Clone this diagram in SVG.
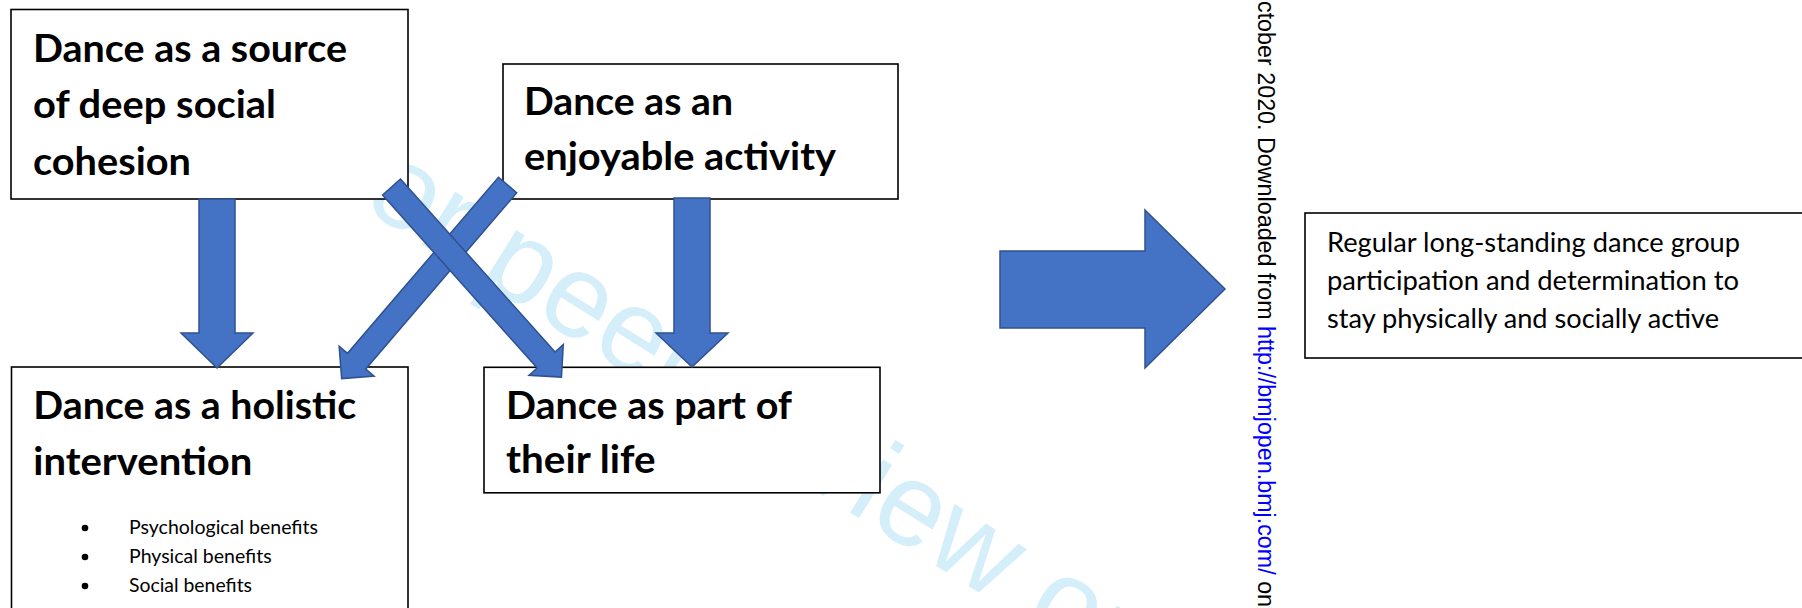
<svg xmlns="http://www.w3.org/2000/svg" width="1802" height="608" viewBox="0 0 1802 608">
<style>
.box{fill:#fff;stroke:#000;stroke-width:1.6}
.h{font-family:Lato,'Liberation Sans',sans-serif;font-weight:700;font-size:39px;fill:#000}
.b{font-family:Lato,'Liberation Sans',sans-serif;font-size:19.5px;fill:#000}
.r{font-family:Lato,'Liberation Sans',sans-serif;font-size:27px;fill:#000}
.arr{fill:#4472C4;stroke:#2F528F;stroke-width:1.5}
.wm{font-family:'Liberation Sans',Arial,sans-serif;font-size:118px;fill:#d4eefa}
.side{font-family:'Liberation Sans',Arial,sans-serif;font-size:23.3px;fill:#000}
</style>
<rect width="1802" height="608" fill="#fff"/>
<text class="wm" transform="translate(298.6,167.6) rotate(32)">For peer review only</text>

<g id="n1">
<rect class="box" x="11" y="9.5" width="397" height="189.5"/>
<text class="h" x="33" y="61.5" textLength="314" lengthAdjust="spacingAndGlyphs">Dance as a source</text>
<text class="h" x="33" y="118" textLength="243" lengthAdjust="spacingAndGlyphs">of deep social</text>
<text class="h" x="33" y="174.5" textLength="158" lengthAdjust="spacingAndGlyphs">cohesion</text>
</g>
<g id="n2">
<rect class="box" x="503" y="64" width="395" height="135"/>
<text class="h" x="524" y="115" textLength="209" lengthAdjust="spacingAndGlyphs">Dance as an</text>
<text class="h" x="524" y="169.5" textLength="312" lengthAdjust="spacingAndGlyphs">enjoyable activity</text>
</g>
<g id="n3">
<rect class="box" x="11.5" y="367" width="396.5" height="260"/>
<text class="h" x="33.3" y="419" textLength="323" lengthAdjust="spacingAndGlyphs">Dance as a holistic</text>
<text class="h" x="33.3" y="475" textLength="219" lengthAdjust="spacingAndGlyphs">intervention</text>
<circle cx="85" cy="528" r="3.3"/>
<circle cx="85" cy="557" r="3.3"/>
<circle cx="85" cy="586" r="3.3"/>
<text class="b" x="129" y="534" textLength="189" lengthAdjust="spacingAndGlyphs">Psychological benefits</text>
<text class="b" x="129" y="563" textLength="142.7" lengthAdjust="spacingAndGlyphs">Physical benefits</text>
<text class="b" x="129" y="592" textLength="123" lengthAdjust="spacingAndGlyphs">Social benefits</text>
</g>
<g id="n4">
<rect class="box" x="484" y="367.3" width="396" height="125.5"/>
<text class="h" x="506" y="419.3" textLength="286" lengthAdjust="spacingAndGlyphs">Dance as part of</text>
<text class="h" x="506" y="473.3" textLength="149.5" lengthAdjust="spacingAndGlyphs">their life</text>
</g>
<g id="n5">
<rect class="box" x="1305" y="213" width="520" height="145"/>
<text class="r" x="1327" y="252" textLength="413" lengthAdjust="spacingAndGlyphs">Regular long-standing dance group</text>
<text class="r" x="1327" y="290" textLength="412" lengthAdjust="spacingAndGlyphs">participation and determination to</text>
<text class="r" x="1327" y="328" textLength="392" lengthAdjust="spacingAndGlyphs">stay physically and socially active</text>
</g>

<g id="connectors">
<polygon class="arr" points="199,199 235,199 235,333 253,333 217,368 181,333 199,333"/>
<polygon class="arr" points="674,198 710,198 710,333 728,333 692,367 656,333 674,333"/>
<polygon class="arr" transform="translate(507.6,185) rotate(130.6)" points="0,-12 232,-12 232,-23 255,0 232,23 232,12 0,12"/>
<polygon class="arr" transform="translate(391.5,187) rotate(48.2)" points="0,-12 232,-12 232,-23 255,0 232,23 232,12 0,12"/>
<polygon class="arr" points="1000,251 1145,251 1145,210 1225,289 1145,368 1145,328 1000,328"/>
</g>

<text class="side" transform="translate(1258,1) rotate(90)">ctober 2020. Downloaded from <tspan fill="#0000ff">http://bmjopen.bmj.com/</tspan> on</text>
</svg>
